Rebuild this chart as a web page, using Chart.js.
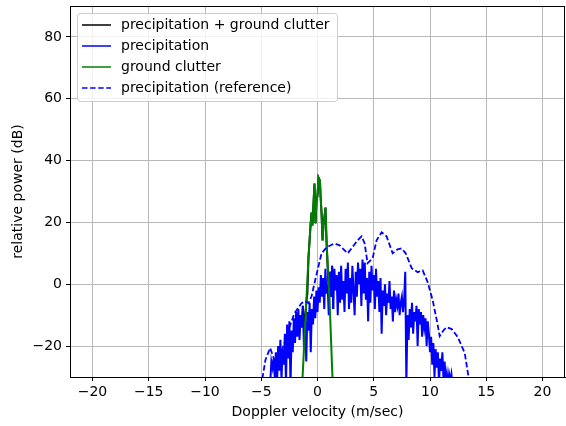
<!DOCTYPE html>
<html>
<head>
<meta charset="utf-8">
<script src="https://cdn.jsdelivr.net/npm/chart.js@4/dist/chart.umd.min.js"></script>
<style>
    html, body { margin: 0; padding: 0; background: #fff; }
    #wrap { width: 566px; height: 426px; position: relative; }
</style>
</head>
<body>
<div id="wrap"><canvas id="spectrum"></canvas></div>
<script>
// Tick labels
const xTicks = [-20, -15, -10, -5, 0, 5, 10, 15, 20];
const yTicks = [-20, 0, 20, 40, 60, 80];

// Precipitation spectrum: bins start at -4.2 m/s, 0.1 m/s apart
const precipStart = -4.2;
const binWidth = 0.1;
const precipDb = [
    -32, -25, -27, -24, -30, -22, -33, -20, -28, -18, -31, -21, -26,
    -16, -32, -13, -24, -12, -33, -15, -22, -11, -19, -9, -17, -8,
    -18, -10, -14, -7, -21, -12, -25, -9, -15, -6, -22, -8, -13, -4,
    -11, -2, -9, -1, -6, 3, -4, 2, -8, 5, -3, 0, -10, 4, -4, 6,
    -8, 5, -2, 3, -10, 4, -6, 6, -5, 1, -9, 5, -3, 7, -8, 2,
    -6, 6, -2, -10, 4, -4, 7, 0, 5, -7, 8, -3, 7, -5, 2, -12,
    4, -6, 6, -2, 3, -8, 5, -4, 1, -9, 2, -16, -2, -7, 0, -10,
    -3, -6, 1, -8, -4, -12, -2, -9, -5, -7, -3, -10, -6, -4, -9, -5,
    4, -32, -10, -18, -8, -14, -6, -16, -9, -12, -7, -20, -8, -13, -9, -17,
    -10, -14, -11, -20, -12, -16, -22, -17, -26, -19, -30, -21, -27, -22, -32, -24,
    -28, -22, -31, -25, -32, -29, -33, -29, -31, -29, -33
];

// Ground clutter
const clutterV = [-1.34, -0.8, -0.62, -0.53, -0.45, -0.27, -0.18, -0.09, 0, 0.09, 0.22, 0.27, 0.36, 0.45, 0.53, 0.71, 0.8, 1.07, 1.34];
const clutterDb = [-31, 8.7, 19, 23.2, 19, 32.6, 19.7, 27, 28.7, 34.5, 33.5, 28.7, 23, 14.2, 19, 24.8, 14.2, -5.2, -31];

// Precipitation + ground clutter (mostly hidden below the others)
const sumV = [-1.5, -1.4, -1.3, -1.2, -1.1, -1.0, -0.9, -0.8, -0.62, -0.53, -0.45, -0.27, -0.18, -0.09, 0, 0.09, 0.22, 0.27, 0.36, 0.45, 0.53, 0.71, 0.8, 1.0, 1.1, 1.2, 1.3, 1.4];
const sumDb = [-10, -14, -7, -12, -12, -6, -3, 8.7, 19, 23.2, 19, 32.6, 19.7, 27, 28.7, 34.5, 33.5, 28.7, 23, 14.2, 19, 24.8, 14.2, -3, 4, -4, 6, -8];

// Reference precipitation spectrum
const refV = [-4.9, -4.63, -4.21, -3.83, -3.38, -2.94, -2.49, -2.05, -1.42, -1.07, -0.8, -0.53, -0.27, 0, 0.36, 0.8, 1.51, 1.96, 2.67, 3.03, 3.56, 3.92, 4.19, 4.45, 4.9, 5.25, 5.7, 6.14, 6.68, 7.12, 7.48, 7.84, 8.37, 8.9, 9.35, 9.8, 10.24, 10.6, 10.86, 11.22, 11.49, 11.93, 12.47, 13.09, 13.45];
const refDb = [-30.5, -24.5, -20.6, -24.5, -23.5, -19, -13.9, -9.4, -6.1, -5.5, -6.1, -3.9, 0.3, 4.5, 10, 11.9, 13.2, 12.6, 10, 11.6, 14.2, 15.5, 13.2, 6.8, 8.4, 14.2, 16.8, 15.5, 10, 11.3, 11.6, 10, 5.2, 3.9, 4.5, 0.6, -5.2, -11.6, -16.8, -14.8, -13.9, -14.5, -17.1, -22.3, -30.5];

const toPoints = (vs, dbs) => vs.map((v, i) => ({ x: v, y: dbs[i] }));
const precipPoints = precipDb.map((d, i) => ({ x: precipStart + i * binWidth, y: d }));

const FONT = 'DejaVu Sans';
const fmt = v => (v < 0 ? '\u2212' + Math.abs(v) : String(v));

// Matplotlib-style legend box in the upper left of the plot
const boxLegend = {
    id: 'boxLegend',
    afterDraw(chart) {
        const ctx = chart.ctx;
        const area = chart.chartArea;
        const x0 = area.left + 7, y0 = area.top + 7, w = 260, h = 88;
        ctx.save();
        ctx.beginPath();
        ctx.roundRect(x0 + 0.5, y0 + 0.5, w, h, 3);
        ctx.fillStyle = 'rgba(255,255,255,0.8)';
        ctx.fill();
        ctx.strokeStyle = '#cccccc';
        ctx.lineWidth = 1;
        ctx.stroke();
        ctx.font = '14px "' + FONT + '"';
        ctx.textBaseline = 'middle';
        chart.data.datasets.forEach((ds, i) => {
            const y = y0 + 12 + i * 21;
            ctx.beginPath();
            ctx.strokeStyle = ds.borderColor;
            ctx.lineWidth = 1.5;
            ctx.setLineDash(ds.borderDash || []);
            ctx.moveTo(x0 + 5, y);
            ctx.lineTo(x0 + 34, y);
            ctx.stroke();
            ctx.setLineDash([]);
            ctx.fillStyle = '#000';
            ctx.fillText(ds.label, x0 + 44, y);
        });
        // frame on all four sides
        ctx.strokeStyle = '#000';
        ctx.lineWidth = 1;
        ctx.strokeRect(Math.round(area.left) + 0.5, Math.round(area.top) + 0.5,
            Math.round(area.right - area.left) - 1, Math.round(area.bottom - area.top));
        ctx.restore();
    }
};

const ctx = document.getElementById('spectrum').getContext('2d');
new Chart(ctx, {
    type: 'line',
    data: {
        datasets: [
            {
                label: 'precipitation + ground clutter',
                data: toPoints(sumV, sumDb),
                borderColor: '#000000',
                borderWidth: 2,
                order: 4
            },
            {
                label: 'precipitation',
                data: precipPoints,
                borderColor: '#0000ff',
                borderWidth: 2,
                order: 3
            },
            {
                label: 'ground clutter',
                data: toPoints(clutterV, clutterDb),
                borderColor: '#008000',
                borderWidth: 2,
                order: 2
            },
            {
                label: 'precipitation (reference)',
                data: toPoints(refV, refDb),
                borderColor: '#0000ff',
                borderWidth: 1.8,
                borderDash: [5.5, 2.6],
                order: 1
            }
        ]
    },
    options: {
        responsive: true,
        maintainAspectRatio: false,
        animation: false,
        elements: {
            point: { radius: 0 },
            line: { tension: 0, fill: false, borderJoinStyle: 'miter' }
        },
        layout: {
            padding: { top: 6, right: 1, bottom: 0, left: 0 }
        },
        plugins: {
            legend: { display: false },
            tooltip: { enabled: false }
        },
        scales: {
            x: {
                type: 'linear',
                min: -22,
                max: 22,
                afterBuildTicks: scale => { scale.ticks = xTicks.map(v => ({ value: v })); },
                afterFit: scale => { scale.height = 49; },
                ticks: {
                    color: '#000',
                    font: { family: FONT, size: 14 },
                    padding: 3,
                    maxRotation: 0,
                    callback: v => fmt(v)
                },
                grid: {
                    color: '#b8b8b8',
                    lineWidth: 1,
                    tickLength: 4,
                    tickColor: '#000'
                },
                border: { color: '#000', width: 1 },
                title: {
                    display: true,
                    text: 'Doppler velocity (m/sec)',
                    color: '#000',
                    font: { family: FONT, size: 14 },
                    padding: { top: 0, bottom: 5 }
                }
            },
            y: {
                type: 'linear',
                min: -30,
                max: 90,
                afterBuildTicks: scale => { scale.ticks = yTicks.map(v => ({ value: v })); },
                afterFit: scale => {
                    scale.width = 70;
                    scale.paddingTop = 0;
                    scale.paddingBottom = 0;
                },
                ticks: {
                    color: '#000',
                    font: { family: FONT, size: 14 },
                    padding: 4,
                    callback: v => fmt(v)
                },
                grid: {
                    color: '#b8b8b8',
                    lineWidth: 1,
                    tickLength: 4,
                    tickColor: '#000'
                },
                border: { color: '#000', width: 1 },
                title: {
                    display: true,
                    text: 'relative power (dB)',
                    color: '#000',
                    font: { family: FONT, size: 14 },
                    padding: { top: 10, bottom: 0 }
                }
            }
        }
    },
    plugins: [boxLegend]
});
</script>
</body>
</html>
